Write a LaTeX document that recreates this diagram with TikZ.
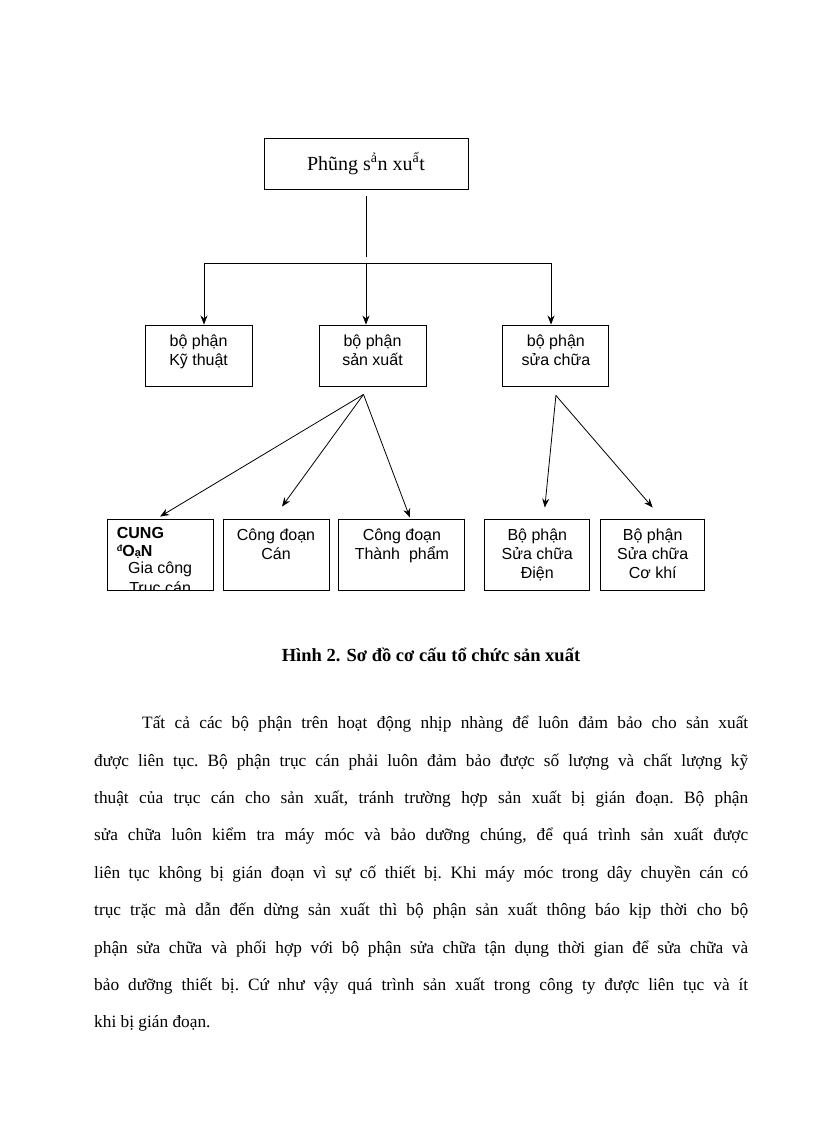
\documentclass[tikz,border=0pt]{standalone}
\usepackage{fontspec}
\setmainfont{Liberation Serif}
\setsansfont{Liberation Sans}
\usetikzlibrary{arrows.meta,positioning}

\begin{document}
\begin{tikzpicture}[
  x=1pt, y=-1pt,
  >={Stealth[length=9pt,width=7pt]},
  bx/.style={draw, line width=0.9pt, inner sep=0pt, align=center, font=\sffamily\fontsize{16}{19}\selectfont},
  midbx/.style={bx, minimum width=107pt, text height=40pt, text depth=21pt},
  bottwo/.style={bx, text height=40pt, text depth=31pt},
  botthree/.style={bx, text height=59pt, text depth=12pt},
  arr/.style={->, line width=0.8pt},
  ln/.style={line width=0.8pt},
]
\path[use as bounding box, fill=white] (0,0) rectangle (816,1123);

\node[draw, line width=0.9pt, minimum width=204pt, minimum height=51pt, font=\fontsize{20}{24}\selectfont] (phong) at (366,163.5) {Phũng s\textsuperscript{ả}n xu\textsuperscript{ấ}t};

\node[midbx] (sx) at (372.5,355.5) {bộ phận\\sản xuất};
\node[midbx, left=66pt of sx] (kt) {bộ phận\\Kỹ thuật};
\node[midbx, minimum width=106pt, right=76pt of sx] (sc) {bộ phận\\sửa chữa};

\node[bottwo, minimum width=106pt] (cd) at (276,554.5) {Công đoạn\\Cán};
\node[bottwo, minimum width=106pt, left=9pt of cd] (cg) {};
\node[bottwo, minimum width=126pt, right=9pt of cd] (tph) {Công đoạn\\Thành~~phẩm};
\node[botthree, minimum width=105pt, right=19pt of tph] (dien) {Bộ phận\\Sửa chữa\\Điện};
\node[botthree, minimum width=104pt, right=10pt of dien] (cokhi) {Bộ phận\\Sửa chữa\\Cơ khí};

% chu bi tran ra ngoai o
\begin{scope}
\clip (cg.south west) rectangle (cg.north east);
\node[anchor=base west, inner sep=0pt, align=left, font=\sffamily\bfseries\fontsize{16}{18}\selectfont] (cghead) at ([xshift=10pt,yshift=-38pt]cg.north west) {CUNG\\\raisebox{5pt}{\fontsize{9}{9}\selectfont đ}O{\fontsize{11}{11}\selectfont ạ}N};
\node[anchor=base, inner sep=0pt, align=center, font=\sffamily\fontsize{16}{20}\selectfont] (cgbody) at ([yshift=-75pt]cg.north) {Gia công\\Trục cán};
\end{scope}

% noi cac o
\coordinate (jn) at (366,263);
\coordinate (jl) at (204,263);
\coordinate (jr) at (551,263);
\draw[ln] ([yshift=-7pt]phong.south) -- ([yshift=6pt]jn);
\draw[ln] (jl) -- (jr);
\draw[arr] (jl) -- (jl |- kt.north);
\draw[arr] (jn) -- (jn |- sx.north);
\draw[arr] (jr) -- (jr |- sc.north);

\coordinate (sxo) at ([xshift=-9pt,yshift=-8pt]sx.south);
\coordinate (sco) at ([yshift=-9pt]sc.south);
\draw[arr] (sxo) -- ([yshift=2pt]cg.north);
\draw[arr] (sxo) -- ([xshift=6pt,yshift=12pt]cd.north);
\draw[arr] (sxo) -- ([xshift=8pt,yshift=1pt]tph.north);
\draw[arr] (sco) -- ([xshift=7.5pt,yshift=11pt]dien.north);
\draw[arr] (sco) -- ([yshift=11pt]cokhi.north);

\node[font=\bfseries\fontsize{18.5}{22}\selectfont] (hinh) at (431,655) {Hình 2. Sơ đồ cơ cấu tổ chức sản xuất};

\node[anchor=north west, inner sep=0pt, text width=654pt, align=justify, font=\frenchspacing\fontsize{17.3}{37.4}\selectfont] (doan) at (94,716) {\hspace*{48pt}Tất cả các bộ phận trên hoạt động nhịp nhàng để luôn đảm bảo cho sản xuất\linebreak
được liên tục. Bộ phận trục cán phải luôn đảm bảo được số lượng và chất lượng kỹ\linebreak
thuật của trục cán cho sản xuất, tránh trường hợp sản xuất bị gián đoạn. Bộ phận\linebreak
sửa chữa luôn kiểm tra máy móc và bảo dưỡng chúng, để quá trình sản xuất được\linebreak
liên tục không bị gián đoạn vì sự cố thiết bị. Khi máy móc trong dây chuyền cán có\linebreak
trục trặc mà dẫn đến dừng sản xuất thì bộ phận sản xuất thông báo kịp thời cho bộ\linebreak
phận sửa chữa và phối hợp với bộ phận sửa chữa tận dụng thời gian để sửa chữa và\linebreak
bảo dưỡng thiết bị. Cứ như vậy quá trình sản xuất trong công ty được liên tục và ít\linebreak
khi bị gián đoạn.};
\end{tikzpicture}
\end{document}
